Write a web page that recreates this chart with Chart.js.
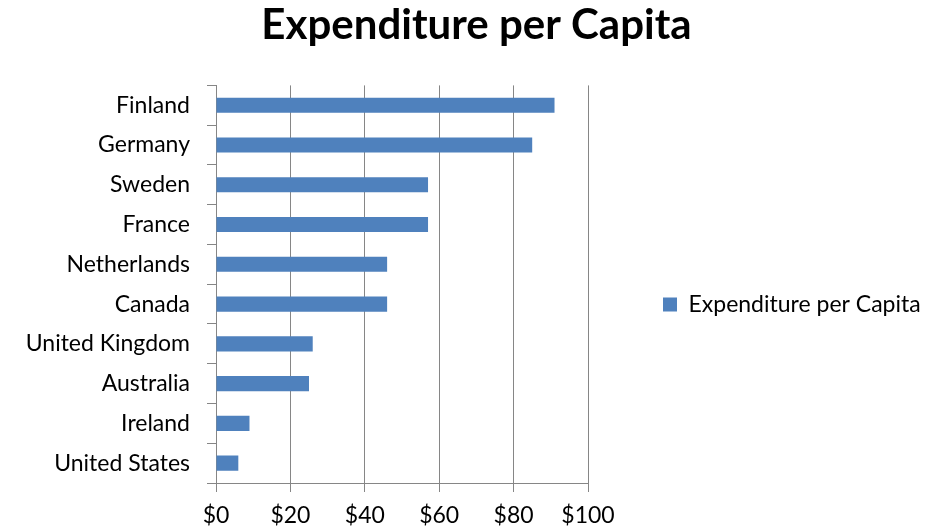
<!DOCTYPE html>
<html>
<head>
<meta charset="utf-8">
<script src="https://cdn.jsdelivr.net/npm/chart.js@4.4.1/dist/chart.umd.min.js"></script>
<style>
  html, body { margin: 0; padding: 0; background: #ffffff; }
  #wrap { width: 933px; height: 531px; position: relative; }
</style>
</head>
<body>
<div id="wrap"><canvas id="c"></canvas></div>
<script>
const categories = ["Finland", "Germany", "Sweden", "France", "Netherlands", "Canada", "United Kingdom", "Australia", "Ireland", "United States"];
const expenditure = [91, 85, 57, 57, 46, 46, 26, 25, 9, 6];
const seriesName = "Expenditure per Capita";
const chartTitle = "Expenditure per Capita";
const xTickValues = [0, 20, 40, 60, 80, 100];

const FONT = "Lato, 'Open Sans', sans-serif";
const AXIS_GRAY = "#868686";

const chart = new Chart(document.getElementById("c"), {
  type: "bar",
  data: {
    labels: categories,
    datasets: [{
      label: seriesName,
      data: expenditure,
      backgroundColor: "#4F81BD",
      borderWidth: 0,
      barPercentage: 0.38,
      categoryPercentage: 1.0
    }]
  },
  options: {
    indexAxis: "y",
    responsive: true,
    maintainAspectRatio: false,
    animation: false,
    layout: { padding: { left: 20, right: 0, top: 0, bottom: 0 } },
    plugins: {
      title: {
        display: true,
        text: chartTitle,
        color: "#000000",
        font: { family: FONT, size: 42, weight: "bold" },
        padding: { top: 0, bottom: 35 }
      },
      legend: {
        display: true,
        position: "right",
        labels: {
          color: "#000000",
          font: { family: FONT, size: 23 },
          boxWidth: 14,
          boxHeight: 14,
          padding: 75
        }
      },
      tooltip: { enabled: false }
    },
    scales: {
      x: {
        min: 0,
        max: 100,
        afterBuildTicks: (s) => { s.ticks = xTickValues.map(v => ({ value: v })); },
        afterFit: (s) => { s.height = 48; },
        ticks: {
          color: "#000000",
          font: { family: FONT, size: 23 },
          padding: 10,
          callback: (v) => "$" + v
        },
        grid: {
          color: AXIS_GRAY,
          lineWidth: 1,
          drawTicks: true,
          tickLength: 9
        },
        border: { display: true, color: AXIS_GRAY, width: 1 }
      },
      y: {
        afterFit: (s) => { s.width = 196; },
        ticks: {
          color: "#000000",
          font: { family: FONT, size: 23 },
          padding: 17
        },
        grid: {
          offset: true,
          drawOnChartArea: false,
          drawTicks: true,
          tickLength: 9,
          color: AXIS_GRAY,
          lineWidth: 1
        },
        border: { display: true, color: AXIS_GRAY, width: 1 }
      }
    }
  }
});

// keep plot area right edge fixed by fixing legend box width, and place legend like the original
const lg = chart.legend;
const origFit = lg.fit.bind(lg);
lg.fit = function () { origFit(); this.width = 345; };
const origDraw = lg.draw.bind(lg);
lg.draw = function () {
  const ctx = this.ctx;
  ctx.save();
  ctx.translate(0, 39);
  origDraw();
  ctx.restore();
};
chart.update();
</script>
</body>
</html>
